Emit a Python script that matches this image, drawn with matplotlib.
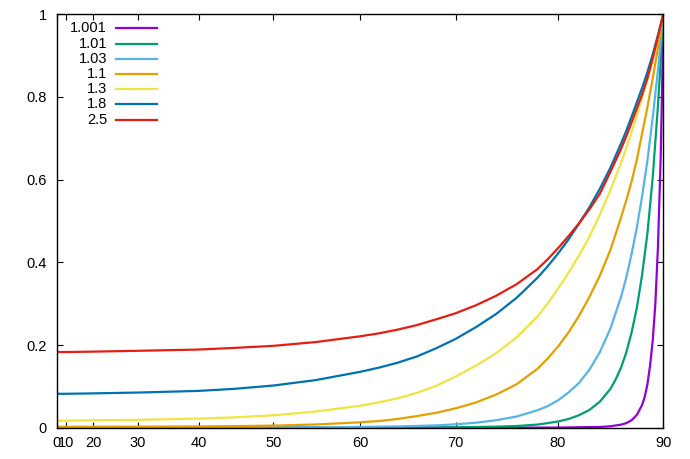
import matplotlib
matplotlib.use("Agg")
import matplotlib.pyplot as plt
import numpy as np

plt.rcParams["font.family"] = ["Liberation Sans", "DejaVu Sans"]
plt.rcParams["font.size"] = 10.5

# values (angle in degrees -> value)
labels = ["1.001", "1.01", "1.03", "1.1", "1.3", "1.8", "2.5"]
colors = ["#9400d3", "#009e73", "#56b4e9", "#e69f00", "#f0e442", "#0072b2", "#e51e10"]

ang_1001 = [0, 80, 84, 85, 86, 86.5, 87, 87.5, 88, 88.25, 88.5, 88.75, 89, 89.25, 89.5, 89.75, 89.9, 90]
val_1001 = [0, 0.0003, 0.0018, 0.0034, 0.0074, 0.011, 0.018, 0.031, 0.055, 0.075, 0.105, 0.15,
            0.21, 0.30, 0.44, 0.65, 0.84, 1.0]

ang_101 = [0, 50, 60, 70, 74, 76, 78, 79, 80, 81, 82, 83, 84, 85, 85.5, 86, 86.5, 87, 87.5,
           88, 88.5, 89, 89.5, 89.75, 90]
val_101 = [0, 0.00005, 0.0002, 0.001, 0.0025, 0.004, 0.0075, 0.011, 0.015, 0.021, 0.030, 0.043,
           0.063, 0.094, 0.117, 0.145, 0.182, 0.23, 0.29, 0.37, 0.47, 0.605, 0.78, 0.885, 1.0]

ang_103 = [0, 30, 40, 50, 55, 60, 64, 68, 70, 72, 74, 76, 78, 79, 80, 81, 82, 83, 84, 85, 86,
           86.5, 87, 87.5, 88, 88.5, 89, 89.5, 90]
val_103 = [0.0002, 0.0003, 0.0004, 0.0007, 0.001, 0.0018, 0.003, 0.0055, 0.0083, 0.012, 0.018,
           0.027, 0.042, 0.052, 0.066, 0.085, 0.108, 0.14, 0.183, 0.24, 0.316, 0.363, 0.42, 0.484,
           0.56, 0.646, 0.75, 0.866, 1.0]

ang_main = [0, 10, 20, 30, 40, 45, 50, 55, 60, 62, 64, 66, 68, 70, 72, 74, 76, 78, 79, 80, 81,
            82, 83, 84, 85, 86, 86.5, 87, 87.5, 88, 88.5, 89, 89.5, 90]
val_11 = [0.0023, 0.0023, 0.0023, 0.0025, 0.003, 0.0038, 0.005, 0.0078, 0.013, 0.016, 0.021,
          0.028, 0.036, 0.047, 0.061, 0.08, 0.105, 0.142, 0.167, 0.196, 0.23, 0.27, 0.316, 0.368,
          0.43, 0.508, 0.55, 0.595, 0.648, 0.712, 0.775, 0.845, 0.919, 1.0]
val_13 = [0.017, 0.017, 0.018, 0.019, 0.022, 0.025, 0.030, 0.039, 0.053, 0.061, 0.071, 0.084,
          0.101, 0.124, 0.15, 0.18, 0.218, 0.268, 0.3, 0.336, 0.374, 0.416, 0.462, 0.515, 0.575,
          0.64, 0.676, 0.714, 0.755, 0.799, 0.843, 0.89, 0.943, 1.0]
val_18 = [0.082, 0.082, 0.083, 0.085, 0.089, 0.094, 0.102, 0.115, 0.135, 0.145, 0.157, 0.172,
          0.192, 0.215, 0.243, 0.275, 0.314, 0.362, 0.39, 0.421, 0.455, 0.493, 0.533, 0.578,
          0.629, 0.687, 0.718, 0.752, 0.787, 0.822, 0.86, 0.903, 0.95, 1.0]
val_25 = [0.183, 0.183, 0.184, 0.186, 0.189, 0.193, 0.198, 0.207, 0.221, 0.228, 0.237, 0.248,
          0.262, 0.277, 0.296, 0.319, 0.347, 0.383, 0.407, 0.434, 0.463, 0.494, 0.528, 0.566,
          0.619, 0.674, 0.705, 0.738, 0.772, 0.806, 0.845, 0.893, 0.946, 1.0]

angles = [ang_1001, ang_101, ang_103, ang_main, ang_main, ang_main, ang_main]
values = [val_1001, val_101, val_103, val_11, val_13, val_18, val_25]

xticks = [0, 10, 20, 30, 40, 50, 60, 70, 80, 90]
yticks = [0, 0.2, 0.4, 0.6, 0.8, 1]
ytick_labels = ["0", "0.2", "0.4", "0.6", "0.8", "1"]


def forward(a):
    return 1 - np.cos(np.radians(a))


def inverse(u):
    return np.degrees(np.arccos(np.clip(1 - u, -1, 1)))


fig = plt.figure(figsize=(6.9, 4.59), dpi=100)
ax = fig.add_axes([0.0822, 0.0682, 0.8791, 0.9008])
ax.set_xscale("function", functions=(forward, inverse))

for a, v, c in zip(angles, values, colors):
    ax.plot(a, v, color=c, lw=1.6, solid_joinstyle="round")

ax.set_xlim(0, 90)
ax.set_ylim(0, 1)
ax.set_xticks(xticks)
ax.set_xticklabels([str(t) for t in xticks])
ax.set_yticks(yticks)
ax.set_yticklabels(ytick_labels)
ax.minorticks_off()
ax.tick_params(direction="in", length=4.5, width=0.8, top=True, right=True)
ax.tick_params(axis="x", pad=6)
ax.tick_params(axis="y", pad=7)
for s in ax.spines.values():
    s.set_linewidth(1.0)

# gnuplot-style key: right-aligned labels, sample line to the right
for i, (lab, c) in enumerate(zip(labels, colors)):
    yk = 0.966 - i * 0.0368
    ax.text(0.083, yk, lab, transform=ax.transAxes, ha="right", va="center")
    ax.plot([0.098, 0.165], [yk, yk], transform=ax.transAxes, color=c, lw=1.6)

fig.savefig("out.png", dpi=100)
